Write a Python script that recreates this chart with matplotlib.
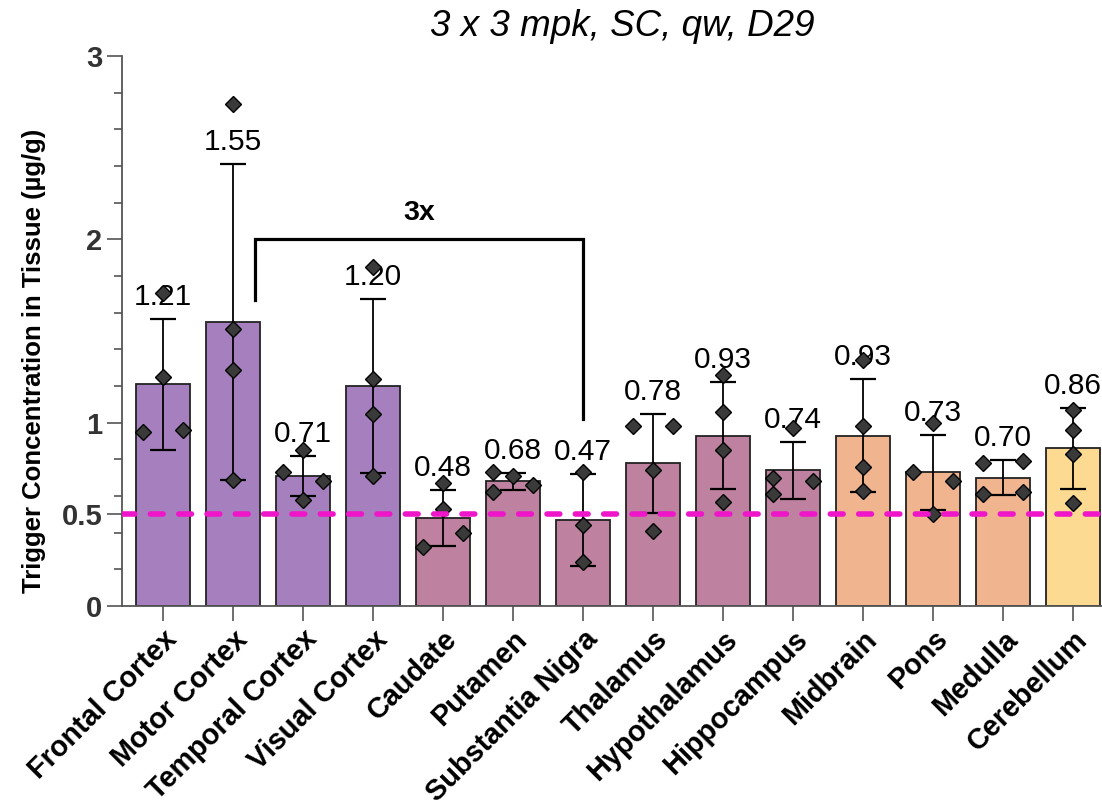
import numpy as np
import matplotlib
matplotlib.use("Agg")
import matplotlib.pyplot as plt

plt.rcParams['font.family'] = ['Liberation Sans', 'DejaVu Sans']

regions = ['Frontal Cortex', 'Motor Cortex', 'Temporal Cortex', 'Visual Cortex',
           'Caudate', 'Putamen', 'Substantia Nigra', 'Thalamus', 'Hypothalamus',
           'Hippocampus', 'Midbrain', 'Pons', 'Medulla', 'Cerebellum']
means = [1.21, 1.55, 0.71, 1.20, 0.48, 0.68, 0.47, 0.78, 0.93, 0.74, 0.93, 0.73, 0.70, 0.86]
sds = [0.357, 0.86, 0.11, 0.475, 0.155, 0.045, 0.25, 0.27, 0.29, 0.155, 0.31, 0.205, 0.097, 0.22]

# individual animals per region, and their sideways spread
points = [
    [1.71, 1.25, 0.95, 0.96],
    [2.74, 1.51, 1.29, 0.69],
    [0.85, 0.73, 0.68, 0.58],
    [1.85, 1.24, 1.05, 0.71],
    [0.67, 0.53, 0.40, 0.32],
    [0.73, 0.71, 0.66, 0.62],
    [0.73, 0.44, 0.24],
    [0.98, 0.98, 0.74, 0.41],
    [1.26, 1.06, 0.85, 0.57],
    [0.97, 0.70, 0.68, 0.61],
    [1.34, 0.98, 0.76, 0.63],
    [1.00, 0.73, 0.68, 0.50],
    [0.78, 0.79, 0.61, 0.62],
    [1.07, 0.96, 0.83, 0.56],
]
spread = [
    [0, 0, -1, 1],
    [0, 0, 0, 0],
    [0, -1, 1, 0],
    [0, 0, 0, 0],
    [0, 0, 1, -1],
    [-1, 0, 1, -1],
    [0, 0, 0],
    [-1, 1, 0, 0],
    [0, 0, 0, 0],
    [0, -1, 1, -1],
    [0, 0, 0, 0],
    [0, -1, 1, 0],
    [-1, 1, -1, 1],
    [0, 0, 0, 0],
]
groups = ['cortex'] * 4 + ['mid'] * 6 + ['stem'] * 3 + ['cereb']
group_colors = {'cortex': '#A680BE', 'mid': '#BE82A0', 'stem': '#F0B48E', 'cereb': '#FCDA92'}
threshold = 0.5

fig = plt.figure(figsize=(11.02, 8.08), dpi=100)
ax = fig.add_axes([122 / 1102, 202 / 808, 980 / 1102, 550 / 808])

x = np.arange(len(regions))
ax.bar(x, means, width=0.78, color=[group_colors[g] for g in groups],
       edgecolor='#222222', linewidth=1.3, zorder=1)
ax.errorbar(x, means, yerr=sds, fmt='none', ecolor='black', elinewidth=1.3,
            capsize=9.5, capthick=1.6, zorder=2)

for i, (vals, sp) in enumerate(zip(points, spread)):
    xs = i + 0.29 * np.array(sp)
    ax.plot(xs, vals, 'D', ms=8, mfc='#3a3a3a', mec='black', mew=1, zorder=4,
            clip_on=False)

for i, (m, s) in enumerate(zip(means, sds)):
    ax.annotate(f'{m:.2f}', (i, m + s), xytext=(0, 10), textcoords='offset points',
                ha='center', va='baseline', fontsize=21.5, color='black', zorder=3)

ax.axhline(threshold, color='#EE16C8', lw=4, linestyle=(0, (2.3, 2.8)),
           dash_capstyle='round', zorder=5)

# fold-change bracket
ax.plot([1.31, 1.31, 6.0, 6.0], [1.67, 2.0, 2.0, 1.02], color='black', lw=2.3,
        solid_joinstyle='miter', zorder=3)
ax.text(3.66, 2.105, '3x', ha='center', va='baseline', fontsize=20.5,
        fontweight='bold')

ax.set_xlim(-0.586, 13.414)
ax.set_ylim(0, 3)
ax.set_yticks([0, 0.5, 1, 2, 3])
ax.set_yticklabels(['0', '0.5', '1', '2', '3'])
ax.set_yticks(np.arange(0, 3.01, 0.2), minor=True)
ax.set_xticks(x)
ax.set_xticklabels(regions, rotation=45, ha='right', rotation_mode='anchor',
                   fontsize=20.8, fontweight='bold')

for s in ['top', 'right']:
    ax.spines[s].set_visible(False)
for s in ['left', 'bottom']:
    ax.spines[s].set_color('#555555')
    ax.spines[s].set_linewidth(1.3)

ax.tick_params(axis='y', which='major', length=10.8, width=1.2, color='#555555',
               labelsize=21, labelcolor='#333333', pad=3.5)
ax.tick_params(axis='y', which='minor', length=5.5, width=1.2, color='#555555')
ax.tick_params(axis='x', which='major', length=10.8, width=1.2, color='#555555', pad=3)
for lab in ax.get_yticklabels():
    lab.set_fontweight('bold')

ax.set_ylabel('Trigger Concentration in Tissue (µg/g)', fontsize=18.5, fontweight='bold')
ax.yaxis.set_label_coords(-0.078, 0.445)

fig.text(622 / 1102, 1 - 36 / 808, '3 x 3 mpk, SC, qw, D29', ha='center',
         va='baseline', fontsize=26.5, style='italic')

fig.savefig('out.png', dpi=100)
